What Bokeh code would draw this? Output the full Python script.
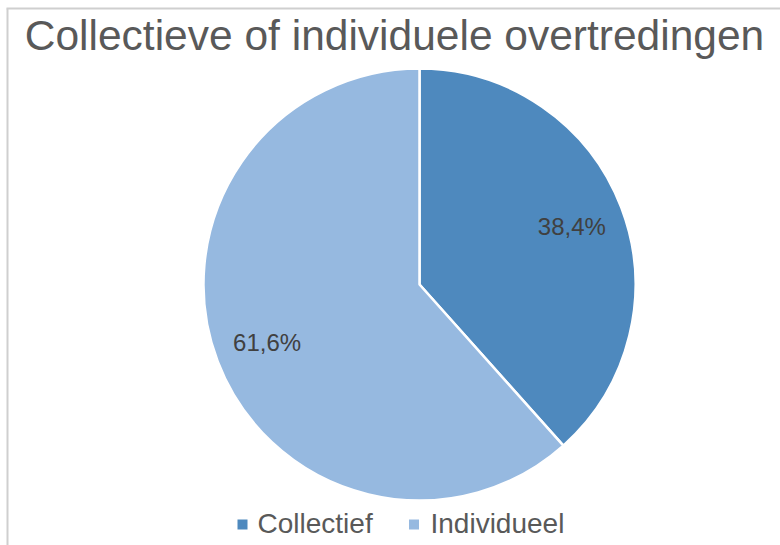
import math
from bokeh.plotting import figure
from bokeh.models import Range1d, ColumnDataSource
from bokeh.core.properties import value
from bokeh.embed import file_html
from bokeh.resources import INLINE

# ---- data ----
categories = ["Collectief", "Individueel"]
percentages = [38.4, 61.6]
colors = ["#4E89BE", "#96B9E0"]
title_text = "Collectieve of individuele overtredingen"

W, H = 780, 545
p = figure(width=W, height=H, output_backend="svg", toolbar_location=None,
           x_range=Range1d(0, W), y_range=Range1d(0, H),
           min_border=0, min_border_left=0, min_border_right=0,
           min_border_top=0, min_border_bottom=0)
p.axis.visible = False
p.grid.visible = False
p.outline_line_color = None
p.background_fill_color = "white"
p.border_fill_color = "white"

# chart border (top and left visible)
p.segment(x0=[6, 7], y0=[537, 0], x1=[W, 7], y1=[537, 537],
          line_color="#CFCFCF", line_width=2)

# pie
cx, cy, r = 419, 261, 216
total = sum(percentages)
starts, ends, lx, ly, labels = [], [], [], [], []
cum = 0.0
for v in percentages:
    a0 = math.pi / 2 - 2 * math.pi * cum / total
    a1 = math.pi / 2 - 2 * math.pi * (cum + v) / total
    starts.append(a0)
    ends.append(a1)
    mid = (a0 + a1) / 2
    lx.append(cx + 0.755 * r * math.cos(mid))
    ly.append(cy + 0.755 * r * math.sin(mid))
    labels.append(f"{v:.1f}".replace(".", ",") + "%")
    cum += v

src = ColumnDataSource(dict(start=starts, end=ends, color=colors,
                            lx=lx, ly=ly, label=labels, cat=categories))
p.wedge(x=cx, y=cy, radius=r, start_angle="start", end_angle="end",
        direction="clock", fill_color="color", line_color="white",
        line_width=2.5, source=src)

p.text(x="lx", y="ly", text="label", source=src,
       text_font=value("Liberation Sans"), text_font_size="24px",
       text_color="#404040", text_align="center", text_baseline="middle")

# title
p.text(x=[394], y=[510], text=[title_text],
       text_font=value("Liberation Sans"), text_font_size="42.5px",
       text_color="#595959", text_align="center", text_baseline="middle")

# legend
leg_sq_x = [242, 413.5]
leg_tx_x = [257, 430]
p.rect(x=leg_sq_x, y=[21, 21], width=10, height=10, fill_color=colors,
       line_color=None)
p.text(x=leg_tx_x, y=[22, 22], text=categories,
       text_font=value("Liberation Sans"), text_font_size="28px",
       text_color="#595959", text_align="left", text_baseline="middle")

open("out.html", "w").write(file_html(p, INLINE))
